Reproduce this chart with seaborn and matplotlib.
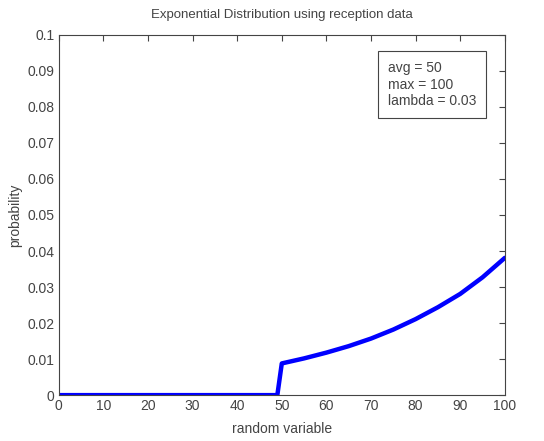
import numpy as np
import pandas as pd
import matplotlib
matplotlib.use('Agg')
import matplotlib.pyplot as plt
import seaborn as sns

# values
random_variable = [0, 10, 20, 30, 40, 49, 50, 55, 60, 65, 70, 75, 80, 85, 90, 95, 100]
probability = [0, 0, 0, 0, 0, 0, 0.0088, 0.0102, 0.0118, 0.0136, 0.0157, 0.0182,
               0.0211, 0.0244, 0.0281, 0.0327, 0.0381]
x_ticks = list(range(0, 101, 10))
y_ticks = [round(0.01 * i, 2) for i in range(11)]
y_labels = ['0', '0.01', '0.02', '0.03', '0.04', '0.05', '0.06', '0.07', '0.08', '0.09', '0.1']
info_lines = ['avg = 50', 'max = 100', 'lambda = 0.03']

sns.set_style('white')
plt.rcParams['font.family'] = ['Liberation Sans', 'DejaVu Sans']
plt.rcParams['font.size'] = 10

df = pd.DataFrame({'random variable': random_variable, 'probability': probability})

fig = plt.figure(figsize=(5.44, 4.41), dpi=100)
ax = fig.add_axes([0.108, 0.104, 0.82, 0.817])
sns.lineplot(data=df, x='random variable', y='probability', color='#0000ff',
             linewidth=3.2, ax=ax)

ax.set_xlim(0, 100)
ax.set_ylim(0, 0.1)
ax.set_xticks(x_ticks)
ax.set_yticks(y_ticks)
ax.set_yticklabels(y_labels)
ax.tick_params(direction='in', length=4, width=0.8, colors='#444444', pad=3,
               top=True, right=True, labelsize=10, labelcolor='#444444')
for s in ax.spines.values():
    s.set_color('#444444')
    s.set_linewidth(0.8)
ax.set_xlabel('random variable', fontsize=10, labelpad=6, color='#444444')
ax.set_ylabel('probability', fontsize=10, labelpad=4, color='#444444')
ax.set_title('Exponential Distribution using reception data', fontsize=9.5, pad=12,
             color='#444444')

ax.text(0.738, 0.928, '\n'.join(info_lines), transform=ax.transAxes, fontsize=10,
        va='top', ha='left', linespacing=1.25, color='#444444',
        bbox=dict(boxstyle='square,pad=0.7', facecolor='white', edgecolor='#444444', linewidth=0.8))

fig.savefig('out.png', dpi=100)
